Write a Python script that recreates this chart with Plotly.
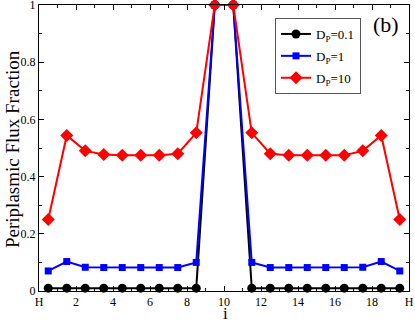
import plotly.graph_objects as go

x = [i + 0.5 for i in range(20)]
black = [0.01]*9 + [1.0, 1.0] + [0.01]*9
blue = [0.07, 0.103, 0.083, 0.082, 0.082, 0.082, 0.082, 0.082, 0.10, 1.0,
        1.0, 0.10, 0.082, 0.082, 0.082, 0.082, 0.082, 0.083, 0.103, 0.07]
red = [0.25, 0.544, 0.49, 0.477, 0.475, 0.475, 0.475, 0.48, 0.553, 1.0,
       1.0, 0.553, 0.48, 0.475, 0.475, 0.475, 0.475, 0.49, 0.544, 0.25]
names = ["D<sub>P</sub>=0.1", "D<sub>P</sub>=1", "D<sub>P</sub>=10"]
xtickvals = [0, 2, 4, 6, 8, 10, 12, 14, 16, 18, 20]
xticktext = ["H", "2", "4", "6", "8", "10", "12", "14", "16", "18", "H"]
ytickvals = [0, 0.2, 0.4, 0.6, 0.8, 1.0]
yticktext = ["0", "0.2", "0.4", "0.6", "0.8", "1"]

fig = go.Figure()
fig.add_trace(go.Scatter(x=x, y=black, name=names[0], mode="lines+markers",
                         legendgroup="a",
                         line=dict(color="black", width=2),
                         marker=dict(symbol="circle", size=9, color="black"),
                         cliponaxis=False))
fig.add_trace(go.Scatter(x=x, y=blue, name=names[1], mode="lines+markers",
                         legendgroup="b",
                         line=dict(color="#0000ff", width=2),
                         marker=dict(symbol="square", size=7, color="#0000ff"),
                         cliponaxis=False))
fig.add_trace(go.Scatter(x=x, y=red, name=names[2], mode="lines+markers",
                         legendgroup="c",
                         line=dict(color="#ff0000", width=2),
                         marker=dict(symbol="diamond", size=10, color="#ff0000"),
                         cliponaxis=False))

font = "Liberation Serif, Times New Roman, serif"
W, H = 415, 320
L, R, T, B = 39, 6, 5, 29
pw, ph = W - L - R, H - T - B
fig.update_layout(
    width=W, height=H,
    margin=dict(l=L, r=R, t=T, b=B, autoexpand=False),
    plot_bgcolor="white", paper_bgcolor="white",
    font=dict(family=font, size=12, color="black"),
    showlegend=True,
    legend=dict(x=(275 - L) / pw, y=(H - B - 18) / ph, xanchor="left", yanchor="top",
                bordercolor="#555555", borderwidth=1, bgcolor="white",
                font=dict(family=font, size=13), tracegroupgap=2,
                itemwidth=30),
    annotations=[
        dict(text="(b)", x=(386 - L) / pw, y=(H - B - 25) / ph,
             xref="paper", yref="paper", xanchor="center", yanchor="middle",
             showarrow=False, font=dict(family=font, size=22)),
        dict(text="i", x=(225 - L) / pw, y=(H - B - 313) / ph,
             xref="paper", yref="paper", xanchor="center", yanchor="middle",
             showarrow=False, font=dict(family=font, size=17)),
        dict(text="Periplasmic Flux Fraction", x=(12 - L) / pw, y=(H - B - 149) / ph,
             xref="paper", yref="paper", xanchor="center", yanchor="middle",
             textangle=-90, showarrow=False, font=dict(family=font, size=19)),
    ],
)
fig.update_xaxes(range=[0, 20], tickvals=xtickvals, ticktext=xticktext,
                 ticks="inside", ticklen=5, tickcolor="black",
                 minor=dict(dtick=1, ticks="inside", ticklen=3, tickcolor="black"),
                 showline=True, linecolor="black", linewidth=1, mirror="allticks",
                 showgrid=False, zeroline=False, ticklabeloverflow="allow",
                 automargin=False, tickfont=dict(family=font, size=12))
fig.update_yaxes(range=[0, 1], tickvals=ytickvals, ticktext=yticktext,
                 ticks="inside", ticklen=5, tickcolor="black",
                 minor=dict(tickvals=[0.1, 0.3, 0.5, 0.7, 0.9], ticks="inside", ticklen=3, tickcolor="black"),
                 showline=True, linecolor="black", linewidth=1, mirror="allticks",
                 showgrid=False, zeroline=False, ticklabeloverflow="allow",
                 automargin=False, tickfont=dict(family=font, size=12))
fig.write_html("out.html", config={"displayModeBar": False},
               post_script="document.body.style.margin='0';document.body.style.overflow='hidden';")
